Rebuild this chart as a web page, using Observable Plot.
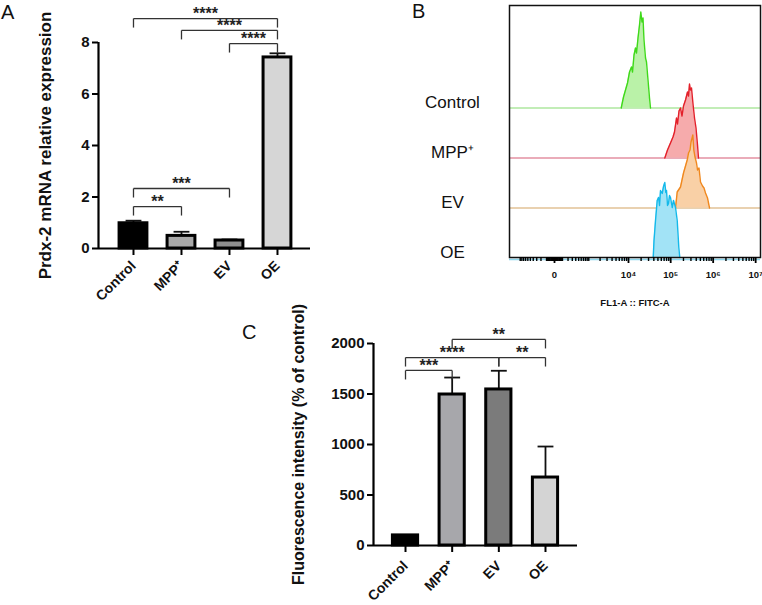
<!DOCTYPE html>
<html>
<head>
<meta charset="utf-8">
<script src="https://cdn.jsdelivr.net/npm/d3@7"></script>
<script src="https://cdn.jsdelivr.net/npm/@observablehq/plot@0.6"></script>
<style>
  html, body { margin: 0; padding: 0; background: #fff; }
  #fig { position: relative; width: 762px; height: 605px; overflow: hidden; background: #fff;
         font-family: "Liberation Sans", Arial, sans-serif; }
  .letter { position: absolute; font-size: 20px; line-height: 20px; color: #111; }
</style>
</head>
<body>
<div id="fig">
  <div class="letter" style="left:1px;top:2px;">A</div>
  <div class="letter" style="left:412px;top:1px;">B</div>
  <div class="letter" style="left:242px;top:322px;">C</div>
</div>
<script>
// ---------- shared categories ----------
const groups = ["Control", "MPP⁺", "EV", "OE"];

// ---------- Panel A: Prdx-2 mRNA relative expression ----------
const mrnaMean = [0.98, 0.49, 0.31, 7.42];
const mrnaErr  = [0.10, 0.16, 0.04, 0.16];
const mrnaTicks = [0, 2, 4, 6, 8];
const mrnaCmpFrom  = [0, 1, 2, 0, 0];
const mrnaCmpTo    = [3, 3, 3, 2, 1];
const mrnaCmpY     = [8.93, 8.47, 7.96, 2.33, 1.63];
const mrnaCmpStars = ["****", "****", "****", "***", "**"];

// ---------- Panel C: Fluorescence intensity (% of control) ----------
const fluoMean = [100, 1495, 1545, 673];
const fluoErr  = [0, 168, 185, 307];
const fluoTicks = [0, 500, 1000, 1500, 2000];
const fluoCmpFrom  = [1, 0, 2, 0];
const fluoCmpTo    = [3, 2, 3, 1];
const fluoCmpY     = [2040, 1861, 1861, 1733];
const fluoCmpStars = ["**", "****", "**", "***"];

// ---------- Panel B: flow cytometry histograms (FL1-A :: FITC-A) ----------
const flowGroups = ["Control", "MPP⁺", "EV", "OE"];
const controlFitc  = [6680, 7590, 8480, 9470, 10580, 11810, 12480, 13550, 14710, 15540, 16870, 18320, 19670, 21000, 22180, 23420, 25420, 26840, 29140, 31620, 33390];
const controlCount = [0, 11, 18, 25, 36, 41, 36, 53, 60, 55, 70, 83, 96, 86, 90, 68, 50, 46, 28, 10, 0];
const mppFitc  = [72690, 84160, 99010, 113420, 123030, 137160, 144820, 157080, 170390, 184820, 200470, 223500, 249100, 262990, 277630, 293020, 309320, 335590, 364010, 394810, 428240, 452050];
const mppCount = [0, 8, 15, 21, 26, 40, 34, 47, 50, 42, 52, 58, 66, 62, 74, 68, 70, 54, 40, 30, 13, 0];
const evFitc  = [129910, 142510, 170390, 200470, 223500, 245130, 262990, 285200, 301070, 331980, 350450, 374000, 405630, 428240, 464520, 503960, 561810, 609130, 660750, 736320, 820770];
const evCount = [0, 16, 21, 35, 42, 48, 55, 58, 66, 73, 58, 51, 45, 38, 40, 26, 22, 20, 15, 10, 0];
const oeFitc  = [38700, 40400, 43830, 48080, 51620, 54500, 57540, 63100, 67730, 72690, 76720, 79700, 84160, 88870, 93780, 99010, 108630, 116550, 129910, 142510, 155380, 164020];
const oeCount = [0, 17, 37, 57, 60, 52, 67, 64, 71, 75, 65, 67, 52, 54, 62, 60, 50, 57, 50, 37, 10, 0];
const flowTickValues = [0, 1e4, 1e5, 1e6, 1e7];
const flowTickLabels = ["0", "10⁴", "10⁵", "10⁶", "10⁷"];
const flowMinorTicks = [-1000, -900, -800, -700, -600, -500, -400, -300, -200, -100,
  -90, -80, -70, -60, -50, -40, -30, -20, -10, 10, 20, 30, 40, 50, 60, 70, 80, 90,
  100, 200, 300, 400, 500, 600, 700, 800, 900,
  1000, 2000, 3000, 4000, 5000, 6000, 7000, 8000, 9000,
  20000, 30000, 40000, 50000, 60000, 70000, 80000, 90000,
  200000, 300000, 400000, 500000, 600000, 700000, 800000, 900000,
  2000000, 3000000, 4000000, 5000000, 6000000, 7000000, 8000000, 9000000];

// ---------- styles ----------
const FONT = "'Liberation Sans', Arial, Helvetica, sans-serif";
const fillsA = ["#000000", "#a9a9a9", "#8e8e8e", "#d6d6d6"];
const fillsC = ["#000000", "#a7a7ab", "#7b7b7b", "#d4d4d4"];
const flowStroke = ["#3fd91a", "#e3202a", "#f0881e", "#14b9ea"];
const flowFill   = ["#baf2a8", "#f6abac", "#f9d0a6", "#a2e3f6"];
const flowBaseColor = ["#86dc70", "#d65a74", "#d4a462", "#8fd8ee"];
const flowBase = [149.5, 99.5, 49.5, 0]; // vertical offsets of the stacked tracks

const fig = document.getElementById("fig");

function place(svg, left, top) {
  svg.style.position = "absolute";
  svg.style.left = left + "px";
  svg.style.top = top + "px";
  svg.style.background = "transparent";
  svg.style.overflow = "visible";
  svg.style.maxWidth = "none";
  fig.appendChild(svg);
}

function barPanel(o) {
  const bars = groups.map((g, i) => ({i, g, mean: o.means[i], err: o.errs[i]}));
  const cmp = o.cmpFrom.map((f, k) => ({from: f, to: o.cmpTo[k], y: o.cmpY[k], stars: o.cmpStars[k]}));
  const errBars = bars.filter(d => d.err > 0);
  return Plot.plot({
    width: o.width, height: o.height,
    marginLeft: o.ml, marginRight: o.mr, marginTop: o.mt, marginBottom: o.mb,
    style: {fontFamily: FONT, background: "transparent", overflow: "visible"},
    x: {type: "linear", domain: o.xDomain},
    y: {domain: o.yDomain},
    marks: [
      Plot.ruleX(errBars, {x: "i", y1: "mean", y2: d => d.mean + d.err, stroke: "#111", strokeWidth: 1.8}),
      Plot.link(errBars, {x1: d => d.i - o.halfCap, x2: d => d.i + o.halfCap,
        y1: d => d.mean + d.err, y2: d => d.mean + d.err, stroke: "#111", strokeWidth: 1.8}),
      Plot.rect(bars, {x1: d => d.i - o.halfBar, x2: d => d.i + o.halfBar, y1: 0, y2: "mean",
        fill: d => o.fills[d.i], stroke: "#000", strokeWidth: 3}),
      // significance brackets
      Plot.link(cmp, {x1: "from", x2: "to", y1: "y", y2: "y", stroke: "#333", strokeWidth: 1.3}),
      Plot.link(cmp, {x1: "from", x2: "from", y1: "y", y2: d => d.y - o.leg, stroke: "#333", strokeWidth: 1.3}),
      Plot.link(cmp, {x1: "to", x2: "to", y1: "y", y2: d => d.y - o.leg, stroke: "#333", strokeWidth: 1.3}),
      Plot.text(cmp, {x: d => (d.from + d.to) / 2, y: "y", text: "stars", fontSize: 16, fontWeight: "bold",
        lineAnchor: "middle", dy: -5, fill: "#222"}),
      // axes
      Plot.axisY({ticks: o.ticks, tickFormat: d => String(d), tickSize: 6, tickPadding: 3,
        fontSize: 15, fontWeight: "bold", strokeWidth: 2, fill: "#111", label: null}),
      Plot.text([o.ylabel], {frameAnchor: "left", rotate: -90, dx: o.labelDx, fontSize: o.labelSize,
        fontWeight: "bold", fill: "#111", textAnchor: "middle", lineAnchor: "middle"}),
      Plot.axisX({ticks: [0, 1, 2, 3], tickFormat: i => groups[i], tickRotate: -45, tickSize: 7,
        tickPadding: o.xPad, fontSize: 14, fontWeight: "bold", strokeWidth: 2, fill: "#111", label: null}),
      Plot.ruleY([0], {stroke: "#000", strokeWidth: 2.2}),
      Plot.ruleX([o.xDomain[0]], {y1: o.yDomain[0], y2: o.yDomain[1], stroke: "#000", strokeWidth: 2.2})
    ]
  });
}

// Panel A
place(barPanel({
  means: mrnaMean, errs: mrnaErr, fills: fillsA, ticks: mrnaTicks,
  cmpFrom: mrnaCmpFrom, cmpTo: mrnaCmpTo, cmpY: mrnaCmpY, cmpStars: mrnaCmpStars,
  xDomain: [-0.729, 3.688], yDomain: [0, 8],
  halfBar: 0.29, halfCap: 0.165, leg: 0.35, xPad: 8,
  ylabel: "Prdx-2 mRNA relative expression", labelDx: -53, labelSize: 17,
  width: 330, height: 330, ml: 98, mr: 20, mt: 42, mb: 82
}), 0, 0);

// Panel C
place(barPanel({
  means: fluoMean, errs: fluoErr, fills: fillsC, ticks: fluoTicks,
  cmpFrom: fluoCmpFrom, cmpTo: fluoCmpTo, cmpY: fluoCmpY, cmpStars: fluoCmpStars,
  xDomain: [-0.686, 3.686], yDomain: [0, 2000],
  halfBar: 0.27, halfCap: 0.17, leg: 89, xPad: 11,
  ylabel: "Fluorescence intensity (% of control)", labelDx: -75, labelSize: 16,
  width: 350, height: 315, ml: 133, mr: 13, mt: 53, mb: 60
}), 240, 290);

// Panel B
const flowSeries = [
  [controlFitc, controlCount], [mppFitc, mppCount], [evFitc, evCount], [oeFitc, oeCount]
];
const flowMarks = [];
flowSeries.forEach(([fitc, count], k) => {
  const rows = fitc.map((v, j) => ({x: v, y1: flowBase[k], y2: flowBase[k] + count[j]}));
  flowMarks.push(
    Plot.ruleY([flowBase[k]], {stroke: flowBaseColor[k], strokeWidth: 1.2}),
    Plot.areaY(rows, {x: "x", y1: "y1", y2: "y2", fill: flowFill[k], curve: "linear"}),
    Plot.line(rows, {x: "x", y: "y2", stroke: flowStroke[k], strokeWidth: 1.4, curve: "linear"})
  );
});
const flowLabels = flowGroups.map((g, k) => ({g, y: flowBase[k] + 5}));
place(Plot.plot({
  width: 347, height: 320,
  marginLeft: 94, marginRight: 2, marginTop: 5, marginBottom: 63,
  style: {fontFamily: FONT, background: "transparent", overflow: "visible"},
  x: {type: "symlog", constant: 185, domain: [-1934, 1.3e7]},
  y: {domain: [0, 252], axis: null},
  marks: [
    ...flowMarks,
    Plot.ruleY([0], {stroke: "#8fd8ee", strokeWidth: 1.5, dy: 2}),
    Plot.frame({stroke: "#111", strokeWidth: 1.5}),
    Plot.axisX({ticks: flowMinorTicks, tickSize: 4, tickFormat: () => "", label: null,
      strokeWidth: 1.4, stroke: "#000", strokeOpacity: 1}),
    Plot.axisX({ticks: flowTickValues, tickFormat: (d, i) => flowTickLabels[i], tickSize: 6, tickPadding: 8,
      fontSize: 9.5, fontWeight: "bold", strokeWidth: 1.8, stroke: "#000", fill: "#111",
      label: "FL1-A :: FITC-A", labelAnchor: "center", labelArrow: "none", labelOffset: 48}),
    Plot.text(flowLabels, {y: "y", text: "g", frameAnchor: "left", dx: -57, textAnchor: "middle",
      fontSize: 17, fill: "#111", lineAnchor: "middle"})
  ]
}), 415, 0);
</script>
</body>
</html>
